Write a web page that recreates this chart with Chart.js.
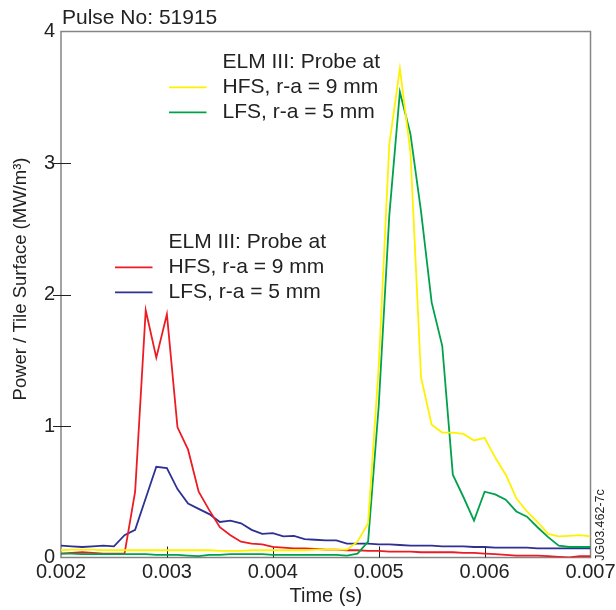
<!DOCTYPE html>
<html><head><meta charset="utf-8">
<script src="https://cdn.jsdelivr.net/npm/chart.js@4"></script>
<style>html,body{margin:0;padding:0;background:#fff;overflow:hidden}</style>
</head><body>
<canvas id="c" width="616" height="610" style="width:616px;height:610px;display:block"></canvas>
<script>
// ---- data ----
const times = [0.0020,0.0021,0.0022,0.0023,0.0024,0.0025,0.0026,0.0027,0.0028,0.0029,
               0.0030,0.0031,0.0032,0.0033,0.0034,0.0035,0.0036,0.0037,0.0038,0.0039,
               0.0040,0.0041,0.0042,0.0043,0.0044,0.0045,0.0046,0.0047,0.0048,0.0049,
               0.0050,0.0051,0.0052,0.0053,0.0054,0.0055,0.0056,0.0057,0.0058,0.0059,
               0.0060,0.0061,0.0062,0.0063,0.0064,0.0065,0.0066,0.0067,0.0068,0.0069,0.0070];
// ELM at ~3 ms
const elm1Hfs = [0.03,0.035,0.04,0.035,0.03,0.03,0.03,0.50,1.88,1.52,
                 1.85,0.99,0.82,0.50,0.36,0.23,0.17,0.12,0.105,0.10,
                 0.08,0.075,0.07,0.07,0.065,0.06,0.06,0.055,0.055,0.05,
                 0.05,0.045,0.045,0.045,0.04,0.04,0.04,0.04,0.035,0.035,
                 0.03,0.025,0.02,0.015,0.015,0.015,0.01,0.005,0.0,0.01,0.01];
const elm1Lfs = [0.09,0.085,0.08,0.085,0.09,0.085,0.17,0.21,0.45,0.69,
                 0.68,0.52,0.41,0.37,0.33,0.27,0.28,0.26,0.21,0.18,
                 0.185,0.16,0.165,0.14,0.135,0.13,0.13,0.105,0.105,0.105,
                 0.10,0.10,0.095,0.09,0.09,0.09,0.085,0.085,0.085,0.08,
                 0.08,0.075,0.075,0.075,0.075,0.07,0.07,0.07,0.07,0.07,0.07];
// ELM at ~5.2 ms
const elm2Hfs = [0.055,0.06,0.06,0.06,0.055,0.055,0.055,0.055,0.055,0.055,
                 0.055,0.055,0.055,0.055,0.055,0.05,0.05,0.05,0.055,0.055,
                 0.055,0.055,0.055,0.055,0.06,0.06,0.06,0.06,0.12,0.26,
                 1.45,3.14,3.72,3.08,1.37,1.01,0.95,0.95,0.94,0.89,
                 0.91,0.76,0.63,0.45,0.35,0.27,0.18,0.16,0.165,0.17,0.16];
const elm2Lfs = [0.03,0.03,0.025,0.025,0.025,0.025,0.025,0.025,0.025,0.02,
                 0.02,0.02,0.015,0.01,0.02,0.02,0.025,0.025,0.025,0.025,
                 0.02,0.02,0.02,0.02,0.02,0.02,0.02,0.015,0.03,0.12,
                 1.15,2.60,3.54,3.22,2.63,1.94,1.61,0.63,0.46,0.28,
                 0.50,0.48,0.44,0.35,0.31,0.23,0.155,0.09,0.08,0.08,0.08];
const seriesLabels = ['HFS, r-a = 9 mm','LFS, r-a = 5 mm','HFS, r-a = 9 mm','LFS, r-a = 5 mm'];
const legendHeader = 'ELM III: Probe at';
const xTickValues = [0.002,0.003,0.004,0.005,0.006,0.007];
const yTickValues = [0,1,2,3,4];
const pulseLabel = 'Pulse No: 51915';
const figureId = 'JG03.462-7c';
const xTitle = 'Time (s)';
const yTitle = 'Power / Tile Surface (MW/m\u00B3)';

// ---- chart ----
const FONT = "'Liberation Sans', Arial, Helvetica, sans-serif";
const colors = ['#fff200','#00a14b','#ed1c24','#2e3192'];
const pts = arr => times.map((t,i)=>({x:t,y:arr[i]}));
const dsData = [elm2Hfs, elm2Lfs, elm1Hfs, elm1Lfs];

const decor = {
  id:'decor',
  beforeDatasetsDraw(chart){
    const {ctx, chartArea:a} = chart;
    ctx.save();
    ctx.strokeStyle = '#858585';
    ctx.lineWidth = 1.5;
    ctx.strokeRect(a.left, a.top, a.right-a.left, a.bottom-a.top);
    ctx.strokeStyle = '#222';
    ctx.lineWidth = 1;
    const xs = chart.scales.x, ys = chart.scales.y;
    xTickValues.slice(1,-1).forEach(v=>{
      const px = Math.round(xs.getPixelForValue(v))+0.5;
      ctx.beginPath(); ctx.moveTo(px,a.bottom); ctx.lineTo(px,a.bottom-11); ctx.stroke();
    });
    yTickValues.slice(1,-1).forEach(v=>{
      const py = Math.round(ys.getPixelForValue(v))+0.5;
      ctx.beginPath(); ctx.moveTo(a.left-8,py); ctx.lineTo(a.left+10,py); ctx.stroke();
    });
    ctx.restore();
  },
  afterDraw(chart){
    const {ctx} = chart;
    ctx.save();
    ctx.fillStyle = '#222';
    ctx.textBaseline = 'middle';
    ctx.textAlign = 'left';
    ctx.font = '21px ' + FONT;
    ctx.fillText(pulseLabel, 62, 18);
    // legend blocks
    const blocks = [
      {x:169, y:62.3, ds:[0,1]},
      {x:115, y:242.3, ds:[2,3]}
    ];
    blocks.forEach(b=>{
      ctx.fillStyle = '#222';
      ctx.font = '21px ' + FONT;
      ctx.fillText(legendHeader, b.x+53.5, b.y);
      b.ds.forEach((d,k)=>{
        const ds = chart.data.datasets[d];
        const yy = b.y + 25*(k+1);
        ctx.strokeStyle = ds.borderColor; ctx.lineWidth = 1.8;
        ctx.beginPath(); ctx.moveTo(b.x, yy); ctx.lineTo(b.x+37.5, yy); ctx.stroke();
        ctx.fillStyle = '#222';
        ctx.fillText(ds.label, b.x+53.5, yy);
      });
    });
    // y title
    ctx.save();
    ctx.translate(21, 279);
    ctx.rotate(-Math.PI/2);
    ctx.textAlign = 'center';
    ctx.font = '18.5px ' + FONT;
    ctx.fillText(yTitle, 0, 0);
    ctx.restore();
    // figure id
    ctx.save();
    ctx.translate(601, 525);
    ctx.rotate(-Math.PI/2);
    ctx.textAlign = 'center';
    ctx.font = '12.5px ' + FONT;
    ctx.fillText(figureId, 0, 0);
    ctx.restore();
    ctx.restore();
  }
};

new Chart(document.getElementById('c'), {
  type:'line',
  data:{datasets: dsData.map((arr,i)=>({
    label: seriesLabels[i], data: pts(arr), borderColor: colors[i], backgroundColor: colors[i],
    borderWidth: 1.8, pointRadius: 0, tension: 0, fill: false
  }))},
  options:{
    responsive:false, animation:false, devicePixelRatio:1,
    layout:{padding:{left:0,right:25.5,top:31.5,bottom:0}},
    plugins:{legend:{display:false}, tooltip:{enabled:false}},
    scales:{
      x:{type:'linear', min:0.002, max:0.007,
         afterBuildTicks: s => { s.ticks = xTickValues.map(v=>({value:v})); },
         ticks:{callback:v=>v.toFixed(3), font:{size:20, family:FONT}, color:'#222', padding:3, maxRotation:0, autoSkip:false},
         grid:{display:false, drawTicks:false}, border:{display:false},
         title:{display:true, text:xTitle, font:{size:20, family:FONT}, color:'#222', padding:{top:0,bottom:2}},
         afterFit: s => { s.height = 52.5; s.paddingLeft = 0; s.paddingRight = 0; }
      },
      y:{type:'linear', min:0, max:4,
         afterBuildTicks: s => { s.ticks = yTickValues.map(v=>({value:v})); },
         ticks:{callback:v=>String(v), font:{size:20, family:FONT}, color:'#222', padding:6},
         grid:{display:false, drawTicks:false}, border:{display:false},
         afterFit: s => { s.width = 61; s.paddingTop = 0; s.paddingBottom = 0; }
      }
    }
  },
  plugins:[decor]
});
</script>
</body></html>
